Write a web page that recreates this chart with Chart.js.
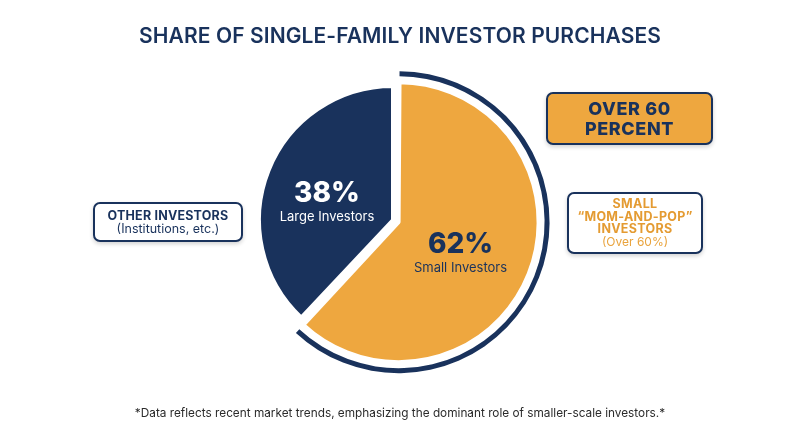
<!DOCTYPE html>
<html>
<head>
<meta charset="utf-8">
<script src="https://cdn.jsdelivr.net/npm/chart.js@4"></script>
<style>
body{margin:0;background:#fff;font-family:Inter,"Open Sans",sans-serif;}
#wrap{position:relative;width:800px;height:447px;overflow:hidden;background:#fff}
#pie{position:absolute;left:0;top:0}
.title{position:absolute;top:23px;left:0;width:800px;text-align:center;font-size:21px;font-weight:600;color:#19325C;letter-spacing:.1px}
.box{position:absolute;box-sizing:border-box;border:2px solid #19325C;border-radius:7px;text-align:center;box-shadow:0 2px 4px rgba(0,0,0,.18);display:flex;flex-direction:column;justify-content:center;background:#fff}
.big{left:546px;top:92px;width:167px;height:53px;background:#EEA73F;border-width:2.5px;color:#19325C;font-weight:800;font-size:18px;line-height:20px;letter-spacing:.6px}
.small{left:567px;top:192px;width:136px;height:62px;color:#E49B32;font-weight:700;font-size:12.5px;line-height:12.5px;letter-spacing:.3px}
.small .sub{font-weight:400;font-size:12px;color:#E9A33C;letter-spacing:0}
.other{left:93px;top:202px;width:150px;height:40px;color:#19325C;font-weight:700;font-size:12.5px;line-height:13px;letter-spacing:.2px}
.other .sub{font-weight:400;font-size:12.5px;letter-spacing:0}
.note{position:absolute;top:406px;left:0;width:800px;text-align:center;font-size:11.8px;color:#2b2b2b}
</style>
</head>
<body>
<div id="wrap">
<canvas id="pie" width="800" height="447"></canvas>
<div class="title">SHARE OF SINGLE-FAMILY INVESTOR PURCHASES</div>
<div class="box big"><div>OVER 60</div><div>PERCENT</div></div>
<div class="box small"><div>SMALL</div><div>“MOM-AND-POP”</div><div>INVESTORS</div><div class="sub">(Over 60%)</div></div>
<div class="box other"><div>OTHER INVESTORS</div><div class="sub">(Institutions, etc.)</div></div>
<div class="note">*Data reflects recent market trends, emphasizing the dominant role of smaller-scale investors.*</div>
</div>
<script>
const categories=["Small Investors","Large Investors"];
const shares=[62,38];
const sliceColors=["#EEA73F","#19325C"];
const textColors=["#19325C","#FFFFFF"];
const labelRadius=[0.57,0.505];
const labelTurn=[0.11,-0.154];

const sliceLabels={
id:"sliceLabels",
afterDatasetsDraw(chart){
const meta=chart.getDatasetMeta(2);
const c=chart.ctx;
meta.data.forEach((arc,i)=>{
const p=arc.getProps(["x","y","startAngle","endAngle","outerRadius"],true);
const mid=(p.startAngle+p.endAngle)/2+labelTurn[i];
const r=p.outerRadius*labelRadius[i];
const x=p.x+Math.cos(mid)*r;
const y=p.y+Math.sin(mid)*r;
c.save();
c.textAlign="center";
c.textBaseline="middle";
c.fillStyle=textColors[i];
c.font="800 28px Inter";
c.fillText(shares[i]+"%",x,y-11);
c.font="400 13px Inter";
c.fillText(categories[i],x,y+12);
c.restore();
});
}
};

const pie=document.getElementById("pie");

new Chart(pie,{
type:"doughnut",
data:{
labels:categories,
datasets:[
{
data:shares,
backgroundColor:["#19325C","rgba(0,0,0,0)"],
borderWidth:0,
weight:5,
offset:[24,0]
},
{
data:shares,
backgroundColor:"rgba(0,0,0,0)",
borderWidth:0,
weight:6
},
{
data:shares,
backgroundColor:sliceColors,
borderColor:"#FFFFFF",
borderWidth:4,
weight:134,
offset:[24,0]
}
]
},
options:{
responsive:false,
animation:false,
events:[],
radius:145,
cutout:0,
layout:{
padding:{right:14,bottom:7}
},
plugins:{
legend:{display:false},
tooltip:{enabled:false}
}
},
plugins:[sliceLabels]
});
</script>
</body>
</html>
